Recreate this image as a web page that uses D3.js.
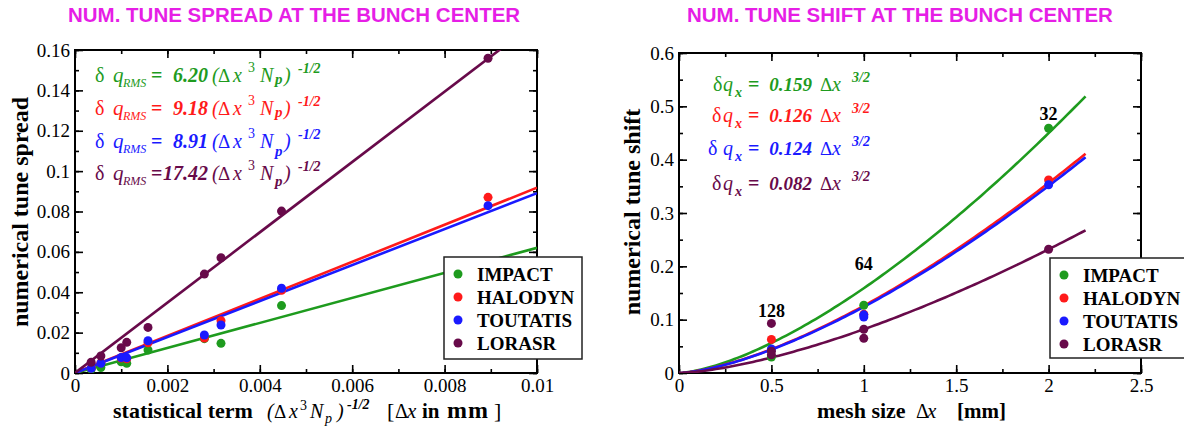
<!DOCTYPE html>
<html><head><meta charset="utf-8">
<script src="https://cdn.jsdelivr.net/npm/d3@7"></script>
<style>
body{margin:0;background:#fff}
svg{display:block}
</style>
</head><body>
<svg id="c" width="1184" height="429"></svg>
<script>
// ---------------- data ----------------
const codes = ["IMPACT", "HALODYN", "TOUTATIS", "LORASR"];

// Left panel: tune spread vs statistical term (Δx^3 Np)^-1/2
const statTerm        = [0.00035, 0.00056, 0.00100, 0.00112, 0.00158, 0.00280, 0.00316, 0.00447, 0.00894];
const spreadImpact    = [0.0018, 0.0027, 0.0056, 0.0048, 0.0114, 0.0170, 0.0147, 0.0334, 0.0550];
const spreadHalodyn   = [0.0025, 0.0050, 0.0074, 0.0070, 0.0150, 0.0173, 0.0259, 0.0410, 0.0870];
const spreadToutatis  = [0.0023, 0.0048, 0.0077, 0.0075, 0.0160, 0.0188, 0.0238, 0.0420, 0.0829];
const spreadLorasr    = [0.0053, 0.0084, 0.0125, 0.0152, 0.0226, 0.0490, 0.0571, 0.0802, 0.1559];
const spreadCoef      = [6.20, 9.18, 8.91, 17.42];
const spreadCoefText  = ["6.20", "9.18", "8.91", "17.42"];
const spreadXTicks    = [0, 0.002, 0.004, 0.006, 0.008, 0.01];
const spreadXTickText = ["0", "0.002", "0.004", "0.006", "0.008", "0.01"];
const spreadYTicks    = [0, 0.02, 0.04, 0.06, 0.08, 0.1, 0.12, 0.14, 0.16];
const spreadYTickText = ["0", "0.02", "0.04", "0.06", "0.08", "0.1", "0.12", "0.14", "0.16"];

// Right panel: tune shift vs mesh size Δx [mm]
const shiftImpact   = [[0.5, 0.030], [1, 0.127], [2, 0.459]];
const shiftHalodyn  = [[0.5, 0.063], [1, 0.110], [2, 0.362]];
const shiftToutatis = [[0.5, 0.045], [1, 0.109], [1, 0.105], [2, 0.353]];
const shiftLorasr   = [[0.5, 0.093], [0.5, 0.041], [0.5, 0.034], [1, 0.082], [1, 0.065], [2, 0.232]];
const shiftCoef     = [0.159, 0.126, 0.124, 0.082];
const shiftCoefText = ["0.159", "0.126", "0.124", "0.082"];
const gridLabels    = ["128", "64", "32"];
const gridLabelMesh = [0.5, 1, 2];
const gridLabelShift= [0.105, 0.193, 0.474];
const meshXTicks    = [0, 0.5, 1, 1.5, 2, 2.5];
const meshXTickText = ["0", "0.5", "1", "1.5", "2", "2.5"];
const shiftYTicks   = [0, 0.1, 0.2, 0.3, 0.4, 0.5, 0.6];
const shiftYTickText= ["0", "0.1", "0.2", "0.3", "0.4", "0.5", "0.6"];

// ---------------- style ----------------
const colors = ["#1e9b1e", "#ff1a1a", "#1a1aff", "#680a4a"];
const magenta = "#e61ee6";
const SERIF = "'Liberation Serif','Times New Roman',serif";
const SANS = "'Liberation Sans',Arial,sans-serif";

const svg = d3.select("#c");

function pieces(x0, y0, color, list) {
  const g = svg.append("g").attr("fill", color);
  list.forEach(p => {
    const t = g.append("text")
      .attr("x", x0 + (p.dx || 0))
      .attr("y", y0 + (p.dy || 0))
      .attr("font-size", p.size || 20)
      .attr("font-style", p.it ? "italic" : "normal")
      .attr("font-weight", p.b ? "bold" : "normal")
      .attr("text-anchor", p.anchor || "start")
      .attr("font-family", SERIF)
      .text(p.t);
    if (p.ls) t.attr("letter-spacing", p.ls);
  });
}

function panel(cfg) {
  const x = d3.scaleLinear().domain(cfg.xDomain).range([cfg.left, cfg.right]);
  const y = d3.scaleLinear().domain(cfg.yDomain).range([cfg.bottom, cfg.top]);
  const g = svg.append("g");
  const cid = "clip" + cfg.id;
  svg.append("clipPath").attr("id", cid).append("rect")
    .attr("x", cfg.left).attr("y", cfg.top)
    .attr("width", cfg.right - cfg.left).attr("height", cfg.bottom - cfg.top);

  const xMinor = d3.range(cfg.xDomain[0], cfg.xDomain[1] + 1e-12, cfg.xMinorStep);
  const yMinor = d3.range(cfg.yDomain[0], cfg.yDomain[1] + 1e-12, cfg.yMinorStep);

  const style = sel => {
    sel.select(".domain").remove();
    sel.selectAll(".tick line").attr("stroke", "#000").attr("stroke-width", 1.6);
    sel.selectAll(".tick text").attr("font-family", SERIF).attr("font-size", 19).attr("fill", "#000");
    sel.attr("font-family", null).attr("font-size", null);
  };
  const add = (axis, tx, ty) => g.append("g").attr("transform", `translate(${tx},${ty})`).call(axis).call(style);

  add(d3.axisBottom(x).tickValues(xMinor).tickSize(-4).tickFormat(""), 0, cfg.bottom);
  add(d3.axisTop(x).tickValues(xMinor).tickSize(-4).tickFormat(""), 0, cfg.top);
  add(d3.axisLeft(y).tickValues(yMinor).tickSize(-4).tickFormat(""), cfg.left, 0);
  add(d3.axisRight(y).tickValues(yMinor).tickSize(-4).tickFormat(""), cfg.right, 0);
  add(d3.axisBottom(x).tickValues(cfg.xTicks).tickSize(-8).tickPadding(6)
      .tickFormat((d, i) => cfg.xTickText[i]), 0, cfg.bottom);
  add(d3.axisTop(x).tickValues(cfg.xTicks).tickSize(-8).tickFormat(""), 0, cfg.top);
  add(d3.axisLeft(y).tickValues(cfg.yTicks).tickSize(-8).tickPadding(5)
      .tickFormat((d, i) => cfg.yTickText[i]), cfg.left, 0);
  add(d3.axisRight(y).tickValues(cfg.yTicks).tickSize(-8).tickFormat(""), cfg.right, 0);

  g.append("rect").attr("x", cfg.left).attr("y", cfg.top)
    .attr("width", cfg.right - cfg.left).attr("height", cfg.bottom - cfg.top)
    .attr("fill", "none").attr("stroke", "#000").attr("stroke-width", 2);

  return {x, y, clip: `url(#${cid})`};
}

// ---------------- titles ----------------
svg.append("text").attr("x", 68).attr("y", 22).attr("font-family", SANS).attr("font-weight", "bold")
  .attr("font-size", 20.5).attr("fill", magenta).text("NUM. TUNE SPREAD AT THE BUNCH CENTER");
svg.append("text").attr("x", 687).attr("y", 22).attr("font-family", SANS).attr("font-weight", "bold")
  .attr("font-size", 20.5).attr("fill", magenta).text("NUM. TUNE SHIFT AT THE BUNCH CENTER");

// ---------------- left panel ----------------
const L = panel({id: "L", left: 75, right: 537, top: 50, bottom: 373,
  xDomain: [0, 0.01], yDomain: [0, 0.16], xMinorStep: 0.001, yMinorStep: 0.01,
  xTicks: spreadXTicks, xTickText: spreadXTickText, yTicks: spreadYTicks, yTickText: spreadYTickText});

const spreadSeries = [spreadImpact, spreadHalodyn, spreadToutatis, spreadLorasr];
const lineL = d3.line().x(d => L.x(d[0])).y(d => L.y(d[1]));
const lgL = svg.append("g").attr("clip-path", L.clip);
spreadCoef.forEach((c, i) => {
  const pts = [[0, 0], [0.01, c * 0.01]];
  lgL.append("path").attr("d", lineL(pts)).attr("fill", "none")
    .attr("stroke", colors[i]).attr("stroke-width", 2.6);
});
spreadSeries.forEach((s, i) => {
  lgL.selectAll(null).data(s.map((v, k) => [statTerm[k], v])).enter().append("circle")
    .attr("cx", d => L.x(d[0])).attr("cy", d => L.y(d[1])).attr("r", 4.5).attr("fill", colors[i]);
});

// left formulas
const baseL = [82, 115, 148, 180];
const pSubL = [2, 2, 8, 6];
spreadCoefText.forEach((t, i) => {
  pieces(95, baseL[i], colors[i], [
    {t: "δ", dx: 0, size: 20},
    {t: "q", dx: 18, size: 21, it: true},
    {t: "RMS", dx: 28, dy: 5, size: 12, it: true},
    {t: "=", dx: 56, size: 20, b: true},
    {t: t, dx: 113, size: 20, b: true, it: true, anchor: "end"},
    {t: "(", dx: 117, size: 20, it: true},
    {t: "Δ", dx: 123, size: 19},
    {t: "x", dx: 138, size: 20, it: true},
    {t: "3", dx: 153, dy: -10, size: 14},
    {t: "N", dx: 165, size: 20, it: true},
    {t: "p", dx: 180, dy: pSubL[i], size: 15, it: true, b: true},
    {t: ")", dx: 189, size: 20, it: true},
    {t: "-1/2", dx: 203, dy: -9, size: 14, it: true, b: true}
  ]);
});

// left axis titles
svg.append("text").attr("transform", "translate(28,212) rotate(-90)").attr("text-anchor", "middle")
  .attr("font-family", SERIF).attr("font-weight", "bold").attr("font-size", 24).text("numerical tune spread");
pieces(0, 418, "#000", [
  {t: "statistical term", dx: 113, size: 22, b: true},
  {t: "(", dx: 267, size: 20, it: true},
  {t: "Δ", dx: 274, size: 19},
  {t: "x", dx: 289, size: 20, it: true},
  {t: "3", dx: 300, dy: -8, size: 14},
  {t: "N", dx: 310, size: 20, it: true},
  {t: "p", dx: 325, dy: 5, size: 14, it: true},
  {t: ")", dx: 337, size: 20, it: true},
  {t: "-1/2", dx: 347, dy: -9, size: 14, it: true, b: true},
  {t: "[", dx: 387, size: 22},
  {t: "Δ", dx: 395, size: 20},
  {t: "x", dx: 407, size: 21, it: true},
  {t: "in", dx: 422, size: 21, b: true},
  {t: "mm", dx: 447, size: 24, b: true, ls: 1},
  {t: "]", dx: 494, size: 22}
]);

// ---------------- right panel ----------------
const R = panel({id: "R", left: 679, right: 1141, top: 53, bottom: 373,
  xDomain: [0, 2.5], yDomain: [0, 0.6], xMinorStep: 0.25, yMinorStep: 0.05,
  xTicks: meshXTicks, xTickText: meshXTickText, yTicks: shiftYTicks, yTickText: shiftYTickText});

const shiftSeries = [shiftImpact, shiftHalodyn, shiftToutatis, shiftLorasr];
const lineR = d3.line().x(d => R.x(d[0])).y(d => R.y(d[1]));
const lgR = svg.append("g").attr("clip-path", R.clip);
const meshSamples = d3.range(0, 2.2001, 0.02);
shiftCoef.forEach((c, i) => {
  lgR.append("path").attr("d", lineR(meshSamples.map(m => [m, c * Math.pow(m, 1.5)])))
    .attr("fill", "none").attr("stroke", colors[i]).attr("stroke-width", 2.6);
});
shiftSeries.forEach((s, i) => {
  lgR.selectAll(null).data(s).enter().append("circle")
    .attr("cx", d => R.x(d[0])).attr("cy", d => R.y(d[1])).attr("r", 4.5).attr("fill", colors[i]);
});
gridLabels.forEach((t, i) => {
  svg.append("text").attr("x", R.x(gridLabelMesh[i])).attr("y", R.y(gridLabelShift[i]))
    .attr("text-anchor", "middle").attr("font-family", SERIF).attr("font-weight", "bold")
    .attr("font-size", 18).text(t);
});

// right formulas
const baseR = [91, 122, 155, 190];
const deltaR = [0, -1, -5, -1];
shiftCoefText.forEach((t, i) => {
  pieces(713, baseR[i], colors[i], [
    {t: "δ", dx: deltaR[i], size: 20},
    {t: "q", dx: 10, size: 20, it: true},
    {t: "x", dx: 22, dy: 6, size: 14, it: true, b: true},
    {t: "=", dx: 35, size: 20, b: true},
    {t: t, dx: 99, size: 19, b: true, it: true, anchor: "end"},
    {t: "Δ", dx: 107, size: 19},
    {t: "x", dx: 119, size: 20, it: true},
    {t: "3/2", dx: 139, dy: -9, size: 14, b: true, it: true}
  ]);
});

svg.append("text").attr("transform", "translate(640,212) rotate(-90)").attr("text-anchor", "middle")
  .attr("font-family", SERIF).attr("font-weight", "bold").attr("font-size", 24).text("numerical tune shift");
pieces(0, 418, "#000", [
  {t: "mesh size", dx: 817, size: 22, b: true},
  {t: "Δ", dx: 916, size: 20},
  {t: "x", dx: 927, size: 21, it: true},
  {t: "[mm]", dx: 957, size: 21, b: true}
]);

// ---------------- legends ----------------
function legend(x0, y0, w, h) {
  const g = svg.append("g");
  g.append("rect").attr("x", x0).attr("y", y0).attr("width", w).attr("height", h)
    .attr("fill", "#fff").attr("stroke", "#222").attr("stroke-width", 1.5);
  codes.forEach((c, i) => {
    const cy = y0 + 17 + i * 23;
    g.append("circle").attr("cx", x0 + 14).attr("cy", cy).attr("r", 4.5).attr("fill", colors[i]);
    g.append("text").attr("x", x0 + 33).attr("y", cy + 7).attr("font-family", SERIF)
      .attr("font-weight", "bold").attr("font-size", 19).text(c);
  });
}
legend(444, 257, 138, 102);
legend(1050, 258, 140, 100);
</script>
</body></html>
